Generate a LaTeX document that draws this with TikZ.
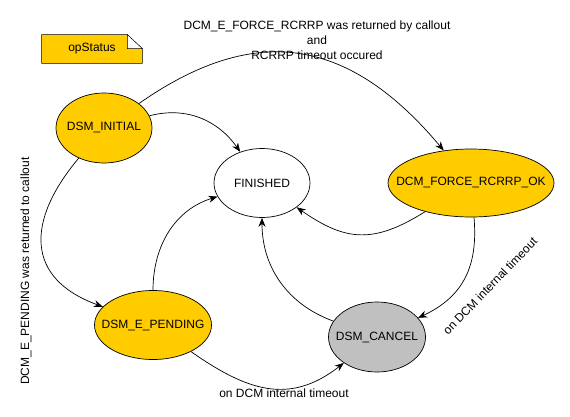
\documentclass[tikz,border=0pt]{standalone}
\usepackage{fontspec}
\setmainfont{Liberation Sans}
\usetikzlibrary{arrows.meta,shapes.geometric,backgrounds}
\definecolor{StateYellow}{RGB}{255,204,0}
\definecolor{StateGray}{RGB}{192,192,192}

\begin{document}
\begin{tikzpicture}[x=1pt, y=1pt, line width=0.7pt,
            state/.style={ellipse, draw, fill=StateYellow, inner sep=0pt,
                          font=\fontsize{12}{15}\selectfont},
            notebox/.style={inner sep=0pt, minimum width=100pt, minimum height=28pt,
                            font=\fontsize{12}{15}\selectfont},
            lbl/.style={inner sep=0pt, align=center, font=\fontsize{12}{15}\selectfont},
            arr/.style={-{Stealth[length=9pt,width=7pt]}}
        ]
            \useasboundingbox (0,0) rectangle (570,416);

            \node[notebox] (status) at (92,367) {opStatus};
            \begin{scope}[on background layer]
                \draw[fill=StateYellow] (status.south west) -- (status.north west)
                    -- ([xshift=-15pt]status.north east) -- ([yshift=-14pt]status.north east)
                    -- (status.south east) -- cycle;
                \draw[fill=white] ([xshift=-15pt]status.north east)
                    -- ([xshift=-15pt,yshift=-14pt]status.north east)
                    -- ([yshift=-14pt]status.north east) -- cycle;
            \end{scope}

            % zero-width text so the ellipse keeps its minimum size
            \node[state, minimum width=96pt, minimum height=70pt] (init) at (104,288) {\makebox[0pt]{DSM\_INITIAL}};
            \node[state, fill=white, minimum width=96pt, minimum height=69pt] (fin) at (262,233) {\makebox[0pt]{FINISHED}};
            \node[state, minimum width=166pt, minimum height=68pt] (force) at (471,233) {\makebox[0pt]{DCM\_FORCE\_RCRRP\_OK}};
            \node[state, minimum width=117pt, minimum height=69pt] (pend) at (153,91) {\makebox[0pt]{DSM\_E\_PENDING}};
            \node[state, fill=StateGray, minimum width=97pt, minimum height=70pt] (cancel) at (377,79) {\makebox[0pt]{DSM\_CANCEL}};

            \draw[arr] (init) to[out=15, in=125] (fin);
            \draw[arr] (init) to[out=35, in=130, looseness=1.2] (force);
            \draw[arr] (init) to[out=230, in=160, looseness=1.4] (pend);
            \draw[arr] (pend) to[out=90, in=197] (fin);
            \draw[arr] (pend) to[out=-35, in=218, looseness=1.15] (cancel);
            \draw[arr] (cancel) to[out=160, in=270] (fin);
            \draw[arr] (force) to[out=212, in=-35, looseness=1.2] (fin);
            \draw[arr] (force) to[out=275, in=25, looseness=1.1] (cancel);

            \node[lbl] (forcelbl) at (317,376) {DCM\_E\_FORCE\_RCRRP was returned by callout\\and\\RCRRP timeout occured};
            \node[lbl, rotate=90] (pendlbl) at (26,145) {DCM\_E\_PENDING was returned to callout};
            \node[lbl] (timeoutlbl) at (284,23) {on DCM internal timeout};
            \node[lbl, rotate=46] (canceltimeoutlbl) at (490,130) {on DCM internal timeout};

        \end{tikzpicture}
\end{document}
